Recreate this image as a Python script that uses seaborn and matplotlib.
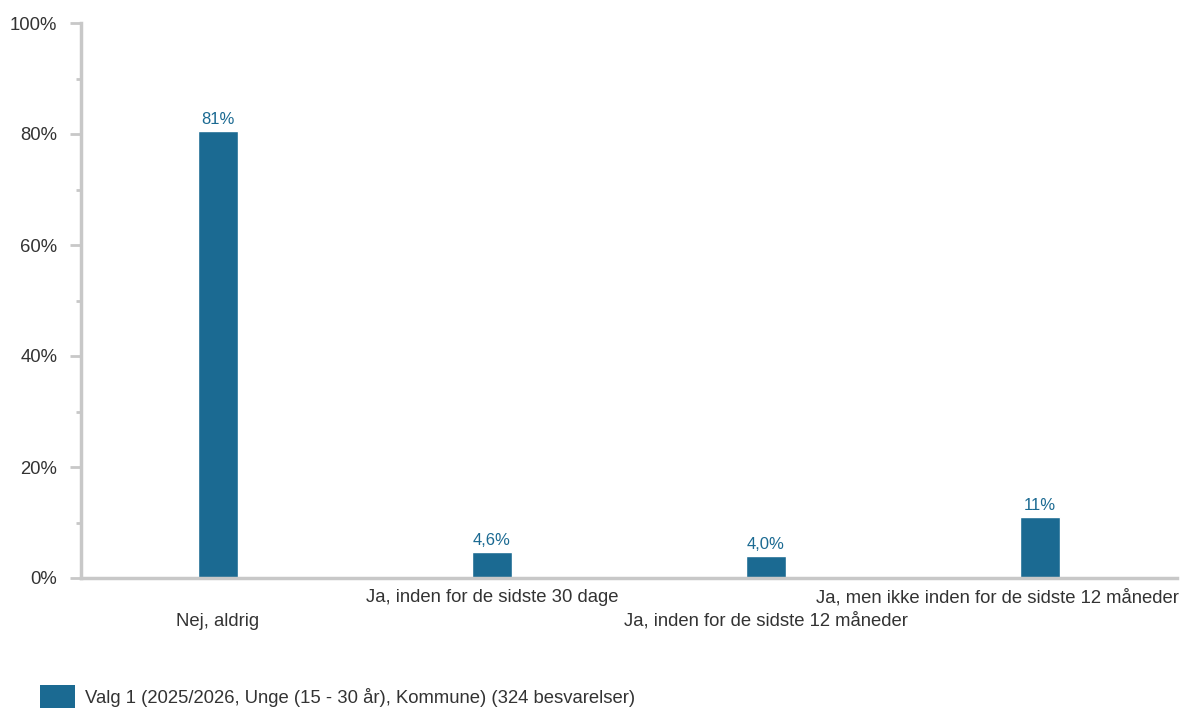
import matplotlib
matplotlib.use("Agg")
import matplotlib.pyplot as plt
from matplotlib.patches import Patch
import seaborn as sns
import pandas as pd

categories = ["Nej, aldrig", "Ja, inden for de sidste 30 dage",
              "Ja, inden for de sidste 12 måneder",
              "Ja, men ikke inden for de sidste 12 måneder"]
values = [80.6, 4.6, 4.0, 11.0]
value_labels = ["81%", "4,6%", "4,0%", "11%"]
y_ticks = [0, 20, 40, 60, 80, 100]
y_tick_labels = ["0%", "20%", "40%", "60%", "80%", "100%"]
series_name = "Valg 1 (2025/2026, Unge (15 - 30 år), Kommune) (324 besvarelser)"

sns.set_theme(style="white")
plt.rcParams["font.family"] = ["Liberation Sans", "DejaVu Sans"]

BAR = "#1b6a92"
SPINE = "#c8c8c8"
TXT = "#333333"

df = pd.DataFrame({"cat": categories, "val": values})

fig = plt.figure(figsize=(11.84, 7.09), dpi=100)
ax = fig.add_axes([81/1184, 1 - 578/709, (1177-81)/1184, (578-23)/709])

sns.barplot(data=df, x="cat", y="val", color=BAR, width=0.146, ax=ax, saturation=1)

ax.set_xlim(-0.5, 3.5)
ax.set_ylim(0, 100)
ax.set_xlabel("")
ax.set_ylabel("")
ax.set_yticks(y_ticks)
ax.set_yticklabels(y_tick_labels, fontsize=13.3, color=TXT)
ax.set_yticks([10, 30, 50, 70, 90], minor=True)
ax.tick_params(axis="y", which="major", length=8, width=2, color=SPINE, pad=9, left=True)
ax.tick_params(axis="y", which="minor", length=3.5, width=2, color=SPINE, left=True)
ax.tick_params(axis="x", length=0)

for s in ["top", "right"]:
    ax.spines[s].set_visible(False)
for s in ["left", "bottom"]:
    ax.spines[s].set_color(SPINE)
    ax.spines[s].set_linewidth(2.5)

# category labels, staggered as in the reference
ax.set_xticks(range(len(categories)))
ax.set_xticklabels([])
for i, cat in enumerate(categories):
    dy = -20 if i % 2 == 1 else -43
    ha = "center"
    dx = 0
    if i == len(categories) - 1:
        ha = "right"
        dx = 139
    ax.annotate(cat, (i, 0), xycoords=("data", "axes fraction"),
                xytext=(dx * 0.72, dy * 0.72), textcoords="offset points",
                ha=ha, va="center", fontsize=13.3, color=TXT, annotation_clip=False)

for i, (v, t) in enumerate(zip(values, value_labels)):
    ax.annotate(t, (i, v), xytext=(0, 3), textcoords="offset points",
                ha="center", va="bottom", fontsize=12, color=BAR)

handle = Patch(facecolor=BAR, edgecolor="none")
fig.legend([handle], [series_name], loc="lower left", bbox_to_anchor=(0.0194, -0.022),
           frameon=False, fontsize=13.3, handlelength=1.9, handleheight=1.5,
           handletextpad=0.55, labelcolor=TXT)

fig.savefig("out.png", dpi=100)
